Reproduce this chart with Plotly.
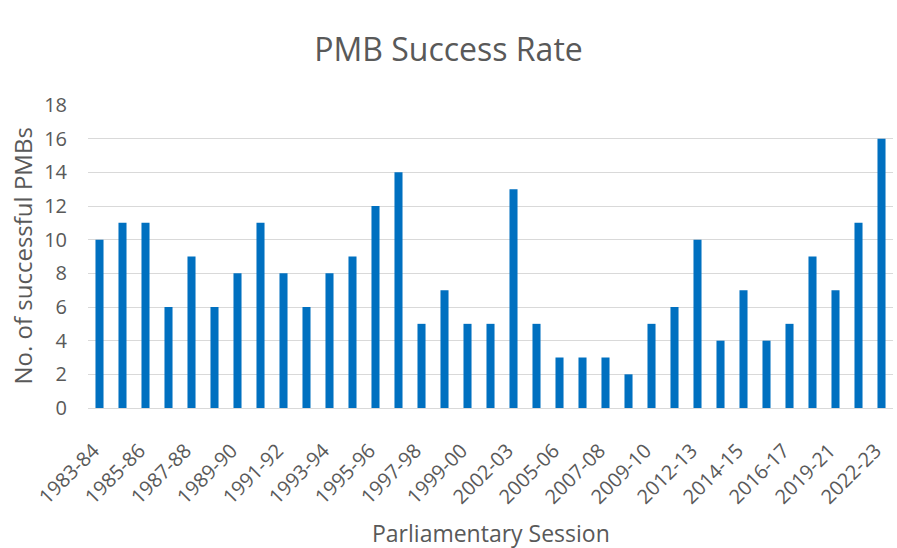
import plotly.graph_objects as go

sessions = ["1983-84","1984-85","1985-86","1986-87","1987-88","1988-89","1989-90","1990-91",
            "1991-92","1992-93","1993-94","1994-95","1995-96","1996-97","1997-98","1998-99",
            "1999-00","2000-01","2002-03","2003-04","2005-06","2006-07","2007-08","2008-09",
            "2009-10","2010-12","2012-13","2013-14","2014-15","2015-16","2016-17","2017-19",
            "2019-21","2021-22","2022-23"]
successful = [10,11,11,6,9,6,8,11,8,6,8,9,12,14,5,7,5,5,13,5,3,3,3,2,5,6,10,4,7,4,5,9,7,11,16]
shown_ticks = sessions[::2]
y_ticks = list(range(0, 19, 2))

FONT = "Open Sans, Lato, sans-serif"
GREY = "#595959"

fig = go.Figure(go.Bar(x=sessions, y=successful, marker_color="#0070C0",
                       marker_line_width=0))
fig.update_layout(
    width=897, height=548,
    margin=dict(l=88, r=4, t=105, b=140, autoexpand=False),
    paper_bgcolor="white", plot_bgcolor="white",
    bargap=0.65,
    showlegend=False,
    title=dict(text="PMB Success Rate", x=0.5, xanchor="center", xref="container",
               y=1 - 50 / 548, yref="container", yanchor="middle",
               font=dict(family=FONT, size=32, color=GREY)),
    font=dict(family=FONT, color=GREY),
    annotations=[
        dict(text="Parliamentary Session", xref="paper", yref="paper", x=0.5,
             y=-(533 - 408) / 303, xanchor="center", yanchor="middle", showarrow=False,
             font=dict(family=FONT, size=23, color=GREY)),
        dict(text="No. of successful PMBs", xref="paper", yref="paper",
             x=-(88 - 22) / 805, y=0.5, xanchor="center", yanchor="middle", textangle=-90,
             showarrow=False, font=dict(family=FONT, size=24, color=GREY)),
    ],
)
fig.update_xaxes(type="category", tickvals=shown_ticks, ticktext=shown_ticks,
                 tickangle=-45, tickfont=dict(size=20, color=GREY), ticks="",
                 ticklabelstandoff=22, ticklabelshift=-6, automargin=False,
                 showgrid=False, showline=True, linecolor="#d9d9d9")
fig.update_yaxes(range=[0, 18], tickvals=y_ticks, tickfont=dict(size=20, color=GREY),
                 showgrid=True, gridcolor="#d9d9d9", gridwidth=1, zeroline=False,
                 ticklabelstandoff=20, automargin=False)
fig.write_html("out.html", config={"displayModeBar": False},
               post_script="document.body.style.margin='0';document.body.style.overflow='hidden';")
